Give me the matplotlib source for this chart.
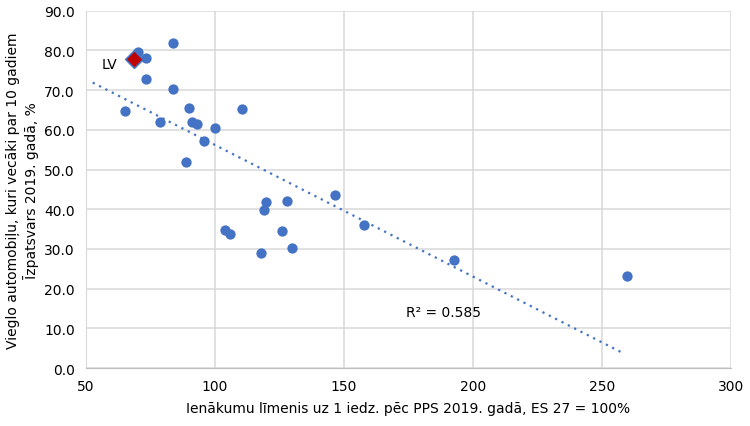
import numpy as np
import matplotlib
matplotlib.use("Agg")
import matplotlib.pyplot as plt

# income level (PPS, EU27=100) and share of cars older than 10 years, %
income = [83.8, 70.0, 73.1, 68.6, 73.1, 83.8, 65.0, 89.8, 110.6, 78.7, 91.0, 92.9, 99.9, 95.7,
          88.8, 146.5, 119.8, 127.8, 118.9, 157.8, 104.0, 105.7, 125.8, 129.8, 117.7, 259.6, 192.6]
old_share = [81.9, 79.5, 78.2, 77.8, 72.7, 70.3, 64.7, 65.6, 65.2, 62.0, 62.0, 61.4, 60.5, 57.3,
             52.0, 43.5, 41.8, 42.1, 39.7, 36.1, 34.8, 33.8, 34.6, 30.2, 29.0, 23.2, 27.1]
lv_income = 68.6
lv_share = 77.8
trend_range = [52.6, 257.9]
r2_label = "R² = 0.585"

blue = "#4472c4"
plt.rcParams['font.family'] = ['DejaVu Sans']

fig = plt.figure(figsize=(7.5, 4.27), dpi=100)
ax = fig.add_axes([0.1147, 0.1358, 0.86, 0.8368])

ax.scatter(income, old_share, s=55, color=blue, zorder=3, linewidths=0)
ax.scatter([lv_income], [lv_share], s=80, marker="D", color="#c00000",
           edgecolors=blue, linewidths=1.2, zorder=4)
ax.text(lv_income - 6.5, lv_share - 1.3, "LV", fontsize=10, ha="right", va="center")

# linear trend
k, b = np.polyfit(income, old_share, 1)
tx = np.array(trend_range)
ax.plot(tx, k * tx + b, color=blue, linestyle=(0, (1, 2.2)), linewidth=1.6, zorder=2)
ax.text(174, 13.2, r2_label, fontsize=10)

ax.set_xlim(50, 300)
ax.set_ylim(0, 90)
ax.set_xticks(range(50, 301, 50))
ax.set_yticks(range(0, 91, 10))
ax.set_yticklabels(["%.1f" % v for v in range(0, 91, 10)])
ax.grid(True, color="#d9d9d9", linewidth=1.1)
ax.set_axisbelow(True)
for s in ["top", "right"]:
    ax.spines[s].set_visible(False)
ax.spines["left"].set_color("#d9d9d9")
ax.spines["bottom"].set_color("#bfbfbf")
ax.tick_params(length=0, labelsize=10, pad=8)

ax.set_xlabel("Ienākumu līmenis uz 1 iedz. pēc PPS 2019. gadā, ES 27 = 100%", fontsize=10, labelpad=6)
ax.set_ylabel("Vieglo automobiļu, kuri vecāki par 10 gadiem\nĪzpatsvars 2019. gadā, %", fontsize=10, labelpad=4)

fig.savefig("out.png", dpi=100)
